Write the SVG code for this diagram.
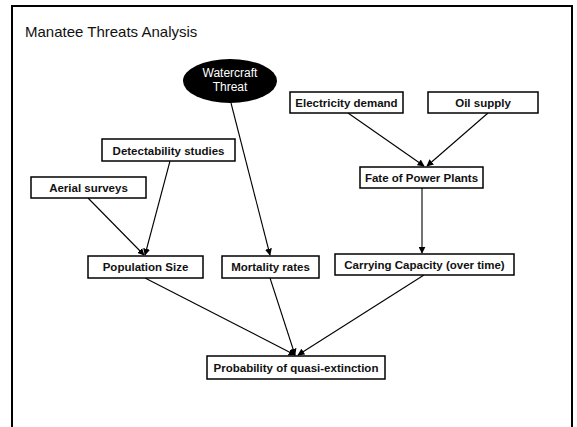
<svg xmlns="http://www.w3.org/2000/svg" width="577" height="427" viewBox="0 0 577 427">
  <style>
    .box { fill: #fff; stroke: #000; stroke-width: 1.5; }
    .lbl { font-family: "Liberation Sans", Arial, sans-serif; font-size: 11.5px; font-weight: bold; fill: #111; text-anchor: middle; }
    .edge { stroke: #000; stroke-width: 1.1; fill: none; marker-end: url(#arrow); }
  </style>
  <defs>
    <marker id="arrow" viewBox="0 0 10 10" refX="9" refY="5" markerWidth="7" markerHeight="7" markerUnits="userSpaceOnUse" orient="auto">
      <path d="M0,0 L10,5 L0,10 z" fill="#000"/>
    </marker>
  </defs>
  <rect width="577" height="427" fill="#fff"/>
  <!-- frame -->
  <path d="M12,427 V6 H572 V427" fill="none" stroke="#000" stroke-width="2"/>
  <text x="25" y="37" font-family="Liberation Sans, Arial, sans-serif" font-size="15" fill="#111">Manatee Threats Analysis</text>

  <g id="connectors">
    <line class="edge" x1="348" y1="113" x2="424" y2="166"/>
    <line class="edge" x1="488" y1="113" x2="427" y2="166"/>
    <line class="edge" x1="422" y1="188" x2="422" y2="253"/>
    <line class="edge" x1="170" y1="161" x2="145" y2="255"/>
    <line class="edge" x1="88" y1="198" x2="144" y2="255"/>
    <line class="edge" x1="231" y1="103" x2="270" y2="255"/>
    <line class="edge" x1="145" y1="278" x2="295" y2="355"/>
    <line class="edge" x1="270" y1="278" x2="295" y2="355"/>
    <line class="edge" x1="424" y1="275" x2="298" y2="355"/>
  </g>

  <g id="watercraft">
    <ellipse cx="230" cy="81" rx="47" ry="22" fill="#000"/>
    <text x="230" y="77" font-family="Liberation Sans, Arial, sans-serif" font-size="12" fill="#fff" text-anchor="middle">Watercraft</text>
    <text x="230" y="91" font-family="Liberation Sans, Arial, sans-serif" font-size="12" fill="#fff" text-anchor="middle">Threat</text>
  </g>
  <g id="electricity">
    <rect class="box" x="290" y="92" width="113" height="21"/>
    <text class="lbl" x="346.5" y="107">Electricity demand</text>
  </g>
  <g id="oil">
    <rect class="box" x="428" y="92" width="110" height="21"/>
    <text class="lbl" x="483" y="107">Oil supply</text>
  </g>
  <g id="power-plants">
    <rect class="box" x="360" y="167" width="123" height="21"/>
    <text class="lbl" x="421.5" y="182">Fate of Power Plants</text>
  </g>
  <g id="detectability">
    <rect class="box" x="102" y="139" width="133" height="22"/>
    <text class="lbl" x="168.5" y="154.5">Detectability studies</text>
  </g>
  <g id="aerial">
    <rect class="box" x="31" y="177" width="115" height="21"/>
    <text class="lbl" x="88.5" y="192">Aerial surveys</text>
  </g>
  <g id="population">
    <rect class="box" x="88" y="256" width="115" height="22"/>
    <text class="lbl" x="145.5" y="271">Population Size</text>
  </g>
  <g id="mortality">
    <rect class="box" x="222" y="256" width="97" height="22"/>
    <text class="lbl" x="270.5" y="271">Mortality rates</text>
  </g>
  <g id="carrying">
    <rect class="box" x="335" y="254" width="179" height="21"/>
    <text class="lbl" x="424.5" y="269">Carrying Capacity (over time)</text>
  </g>
  <g id="probability">
    <rect class="box" x="207" y="356" width="178" height="23"/>
    <text class="lbl" x="296" y="371.5">Probability of quasi-extinction</text>
  </g>
</svg>
